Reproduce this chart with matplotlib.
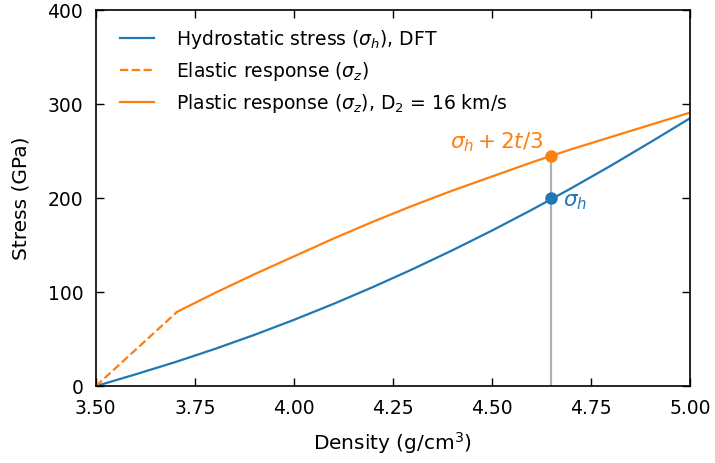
import matplotlib
matplotlib.use("Agg")
import matplotlib.pyplot as plt

plt.rcParams['font.family'] = ['DejaVu Sans']
plt.rcParams['mathtext.fontset'] = 'dejavusans'
plt.rcParams['font.size'] = 13.5

# hydrostatic stress from DFT
rho_h = [3.5, 3.6, 3.7, 3.8, 3.9, 4.0, 4.1, 4.2, 4.3, 4.4, 4.5, 4.6, 4.7, 4.8, 4.9, 5.0]
sig_h = [0, 12.5, 25.5, 39.5, 54.5, 70.5, 87.5, 105.5, 124.5, 144.5, 165.5, 187.5, 210.5,
         234.5, 259.5, 285]

# elastic branch up to the yield point
rho_el = [3.5, 3.705]
sig_el = [0, 79]

# plastic branch
rho_pl = [3.705, 3.8, 3.9, 4.0, 4.1, 4.2, 4.3, 4.4, 4.5, 4.6, 4.7, 4.8, 4.9, 5.0]
sig_pl = [79, 99, 119, 138, 157, 175, 192, 208, 223, 238, 252, 265, 278, 291]

rho_mark = 4.65
sig_h_mark = 200
sig_pl_mark = 245

blue = '#1f77b4'
orange = '#ff7f0e'

fig, ax = plt.subplots(figsize=(7.15, 4.63), dpi=100)
fig.subplots_adjust(left=0.134, right=0.965, top=0.978, bottom=0.166)

ax.plot([rho_mark, rho_mark], [0, sig_pl_mark], color='#b0b0b0', lw=1.6, zorder=1)
ax.plot(rho_h, sig_h, color=blue, lw=1.6, label=r'Hydrostatic stress ($\sigma_h$), DFT')
ax.plot(rho_el, sig_el, color=orange, lw=1.6, ls='--', label=r'Elastic response ($\sigma_z$)')
ax.plot(rho_pl, sig_pl, color=orange, lw=1.6, label=r'Plastic response ($\sigma_z$), D$_2$ = 16 km/s')

ax.plot(rho_mark, sig_h_mark, 'o', color=blue, ms=8, zorder=5)
ax.plot(rho_mark, sig_pl_mark, 'o', color=orange, ms=8, zorder=5)
ax.text(rho_mark + 0.03, sig_h_mark - 4, r'$\sigma_h$', color=blue, fontsize=15.5,
        va='center', ha='left')
ax.text(rho_mark - 0.02, sig_pl_mark + 15, r'$\sigma_h + 2t/3$', color=orange, fontsize=15.5,
        va='center', ha='right')

ax.set_xlim(3.5, 5.0)
ax.set_ylim(0, 400)
ax.set_xticks([3.5, 3.75, 4.0, 4.25, 4.5, 4.75, 5.0])
ax.set_yticks([0, 100, 200, 300, 400])
ax.set_xticklabels(['3.50', '3.75', '4.00', '4.25', '4.50', '4.75', '5.00'])
ax.tick_params(direction='in', top=True, right=True, length=6, width=1, pad=9, labelsize=13.5)
for s in ax.spines.values():
    s.set_linewidth(1.2)

ax.set_xlabel(r'Density (g/cm$^3$)', fontsize=14.5, labelpad=9)
ax.set_ylabel('Stress (GPa)', fontsize=14.5, labelpad=12)
ax.legend(loc='upper left', bbox_to_anchor=(0.028, 0.973), borderaxespad=0, frameon=False,
          handlelength=1.8, handletextpad=1.2, labelspacing=0.48, fontsize=13.5)

fig.savefig('out.png', dpi=100)
